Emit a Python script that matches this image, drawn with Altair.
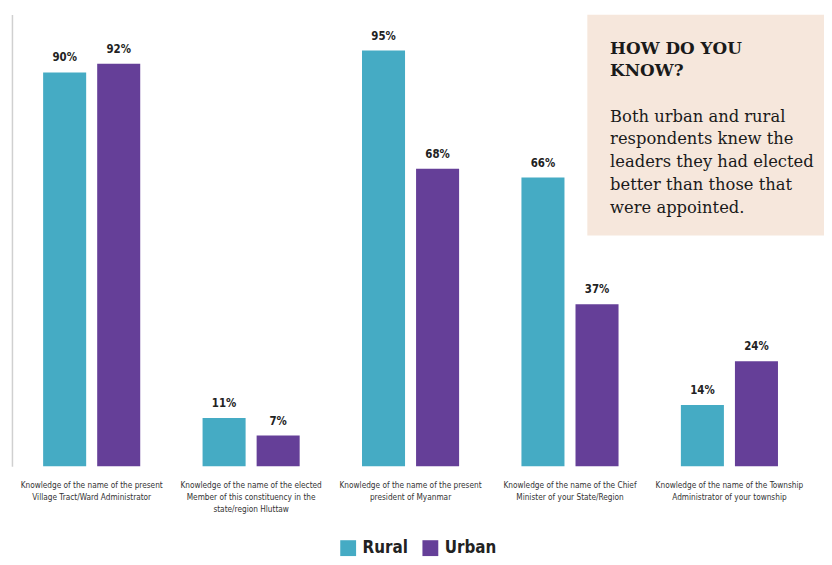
import altair as alt
import pandas as pd

categories = [
    "Knowledge of the name of the present|Village Tract/Ward Administrator",
    "Knowledge of  the name of the elected|Member of this constituency in the|state/region Hluttaw",
    "Knowledge of the name of the present|president of Myanmar",
    "Knowledge of the name of the Chief|Minister of your State/Region",
    "Knowledge of the name of the Township|Administrator of your township",
]
rural = [90, 11, 95, 66, 14]
urban = [92, 7, 68, 37, 24]
series = ["Rural", "Urban"]
colors = ["#45abc4", "#653f98"]

rows = []
for c, r, u in zip(categories, rural, urban):
    rows.append({"cat": c, "series": "Rural", "value": r, "label": f"{r}%"})
    rows.append({"cat": c, "series": "Urban", "value": u, "label": f"{u}%"})
df = pd.DataFrame(rows)

note_title = ["HOW DO YOU", "KNOW?"]
note_body = ["Both urban and rural", "respondents knew the", "leaders they had elected",
             "better than those that", "were appointed."]

cond = "Liberation Sans Narrow, DejaVu Sans Condensed, Arial Narrow, sans-serif"
serif = "DejaVu Serif, Liberation Serif, serif"

x = alt.X("cat:N", sort=categories, title=None,
          scale=alt.Scale(paddingInner=0.391, paddingOuter=0.1955),
          axis=alt.Axis(labelExpr="split(datum.label, '|')", labelAngle=0,
                        labelFont=cond, labelFontSize=8.3, labelColor="#333333",
                        labelLineHeight=12, labelPadding=15, labelLimit=300,
                        domain=False, ticks=False))
xo = alt.XOffset("series:N", sort=series,
                 scale=alt.Scale(paddingInner=0.204, paddingOuter=0))
y = alt.Y("value:Q", title=None, scale=alt.Scale(domain=[0, 103.2], nice=False),
          axis=alt.Axis(labels=False, ticks=False, grid=False, domain=True,
                        domainColor="#d0d0d0", domainWidth=1.5))

base = alt.Chart(df)
bars = base.mark_bar().encode(
    x=x, xOffset=xo, y=y,
    color=alt.Color("series:N", sort=series,
                    scale=alt.Scale(domain=series, range=colors),
                    legend=alt.Legend(title=None, orient="none", direction="horizontal",
                                      legendX=331, legendY=530,
                                      symbolType="square", symbolSize=256,
                                      symbolStrokeWidth=0, symbolOpacity=1,
                                      labelFont=cond, labelFontSize=17,
                                      labelFontWeight="bold", labelColor="#222222",
                                      columnPadding=14, labelOffset=6)),
)
labels = base.mark_text(dy=-14, font=cond, fontSize=11.5, fontWeight="bold",
                        color="#222222").encode(
    x=x, xOffset=xo, y=y, text="label:N")

note_df = pd.DataFrame({"t": [note_title], "b": [note_body]})
note = alt.Chart(note_df)
box = note.mark_rect(color="#f6e7dc").encode(
    x=alt.value(581), x2=alt.value(860), y=alt.value(0), y2=alt.value(223))
ttl = note.mark_text(align="left", baseline="alphabetic", font=serif, fontSize=17,
                     fontWeight="bold", color="#1a1a1a", lineHeight=22).encode(
    x=alt.value(604), y=alt.value(40), text="t")
body = note.mark_text(align="left", baseline="alphabetic", font=serif, fontSize=16.5,
                      color="#1a1a1a", lineHeight=23).encode(
    x=alt.value(604), y=alt.value(108), text="b")

chart = alt.layer(bars, labels, box, ttl, body).properties(
    width=805, height=456,
    autosize=alt.AutoSizeParams(type="none"),
    padding={"left": 4, "top": 4, "right": 15, "bottom": 89},
).configure_view(stroke=None)

chart.save("out.html", embed_options={"renderer": "svg", "actions": False})
